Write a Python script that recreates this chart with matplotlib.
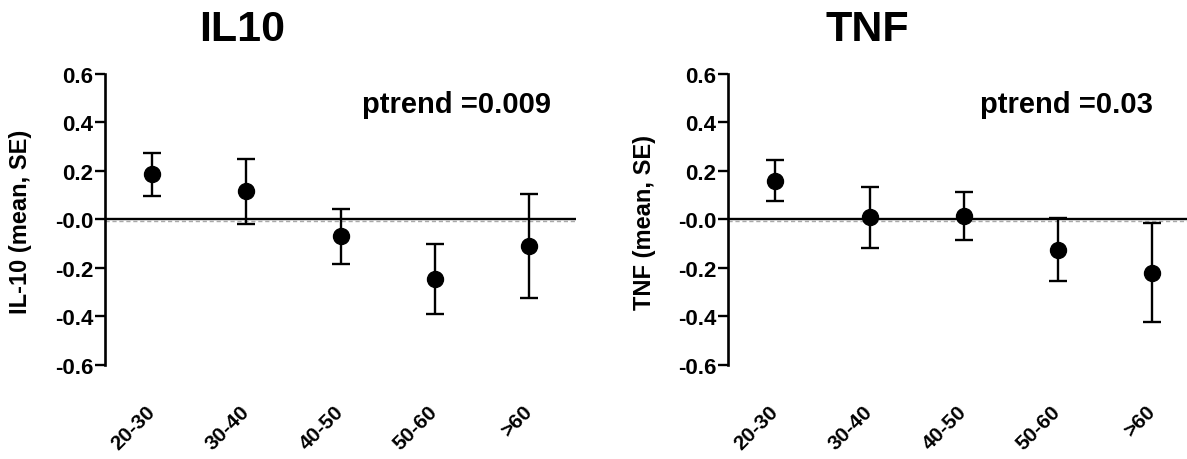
import matplotlib
matplotlib.use("Agg")
import matplotlib.pyplot as plt
import matplotlib.transforms as mtransforms
import numpy as np

plt.rcParams['font.family'] = ['Liberation Sans', 'DejaVu Sans']
plt.rcParams['font.weight'] = 'bold'

categories = ['20-30', '30-40', '40-50', '50-60', '>60']
il10_mean = [0.185, 0.115, -0.070, -0.245, -0.110]
il10_se = [0.090, 0.135, 0.112, 0.145, 0.216]
tnf_mean = [0.160, 0.008, 0.014, -0.125, -0.220]
tnf_se = [0.083, 0.127, 0.098, 0.130, 0.204]
yticks = [-0.6, -0.4, -0.2, 0.0, 0.2, 0.4, 0.6]
yticklabels = ['-0.6', '-0.4', '-0.2', '-0.0', '0.2', '0.4', '0.6']
titles = ['IL10', 'TNF']
ylabels = ['IL-10 (mean, SE)', 'TNF (mean, SE)']
ptrend_texts = ['ptrend =0.009', 'ptrend =0.03']

W, H = 1187, 460
fig = plt.figure(figsize=(W / 100, H / 100), dpi=100)

def px_axes(x0, x1, y_top, y_bot):
    return [x0 / W, 1 - y_bot / H, (x1 - x0) / W, (y_bot - y_top) / H]

ax_specs = [
    dict(rect=px_axes(105, 576, 74.7, 366), mean=il10_mean, se=il10_se,
         title_x=242, ptrend_x=362, ylabel_x=21),
    dict(rect=px_axes(728.3, 1199, 74.7, 366), mean=tnf_mean, se=tnf_se,
         title_x=867, ptrend_x=980, ylabel_x=645),
]

for i, spec in enumerate(ax_specs):
    ax = fig.add_axes(spec['rect'])
    x = np.arange(len(categories))
    ax.axhline(0, color='black', lw=1.7, zorder=1)
    dl = ax.axhline(0, color='#aaaaaa', lw=1.0, ls=(0, (3, 2)), zorder=0.9)
    dl.set_transform(dl.get_transform() +
                     mtransforms.ScaledTranslation(0, -1.2 / 72, fig.dpi_scale_trans))
    ax.errorbar(x, spec['mean'], yerr=spec['se'], fmt='o', color='black',
                ms=11.5, elinewidth=1.7, capsize=6.5, capthick=1.7, zorder=3)
    ax.set_xlim(-0.5, 4.5)
    ax.set_ylim(-0.6, 0.6)
    ax.set_yticks(yticks)
    ax.set_yticklabels(yticklabels, fontsize=16, fontweight='bold')
    ax.set_xticks(x)
    ax.set_xticklabels(categories, fontsize=15, fontweight='bold', rotation=45,
                       ha='right', va='center', rotation_mode='anchor')
    ax.tick_params(axis='x', length=0, pad=31)
    ax.tick_params(axis='y', length=7, width=1.7, pad=1.5, direction='out')
    for s in ['top', 'right', 'bottom']:
        ax.spines[s].set_visible(False)
    ax.spines['left'].set_linewidth(1.9)
    ax.patch.set_alpha(0)

    fig.text(spec['title_x'] / W, 1 - 41 / H, titles[i], fontsize=31,
             fontweight='bold', ha='center', va='baseline')
    fig.text(spec['ptrend_x'] / W, 1 - 113 / H, ptrend_texts[i], fontsize=21,
             fontweight='bold', ha='left', va='baseline')
    fig.text(spec['ylabel_x'] / W, 1 - 222 / H, ylabels[i], fontsize=17,
             fontweight='bold', ha='center', va='center', rotation=90)

fig.savefig('out.png', dpi=100)
